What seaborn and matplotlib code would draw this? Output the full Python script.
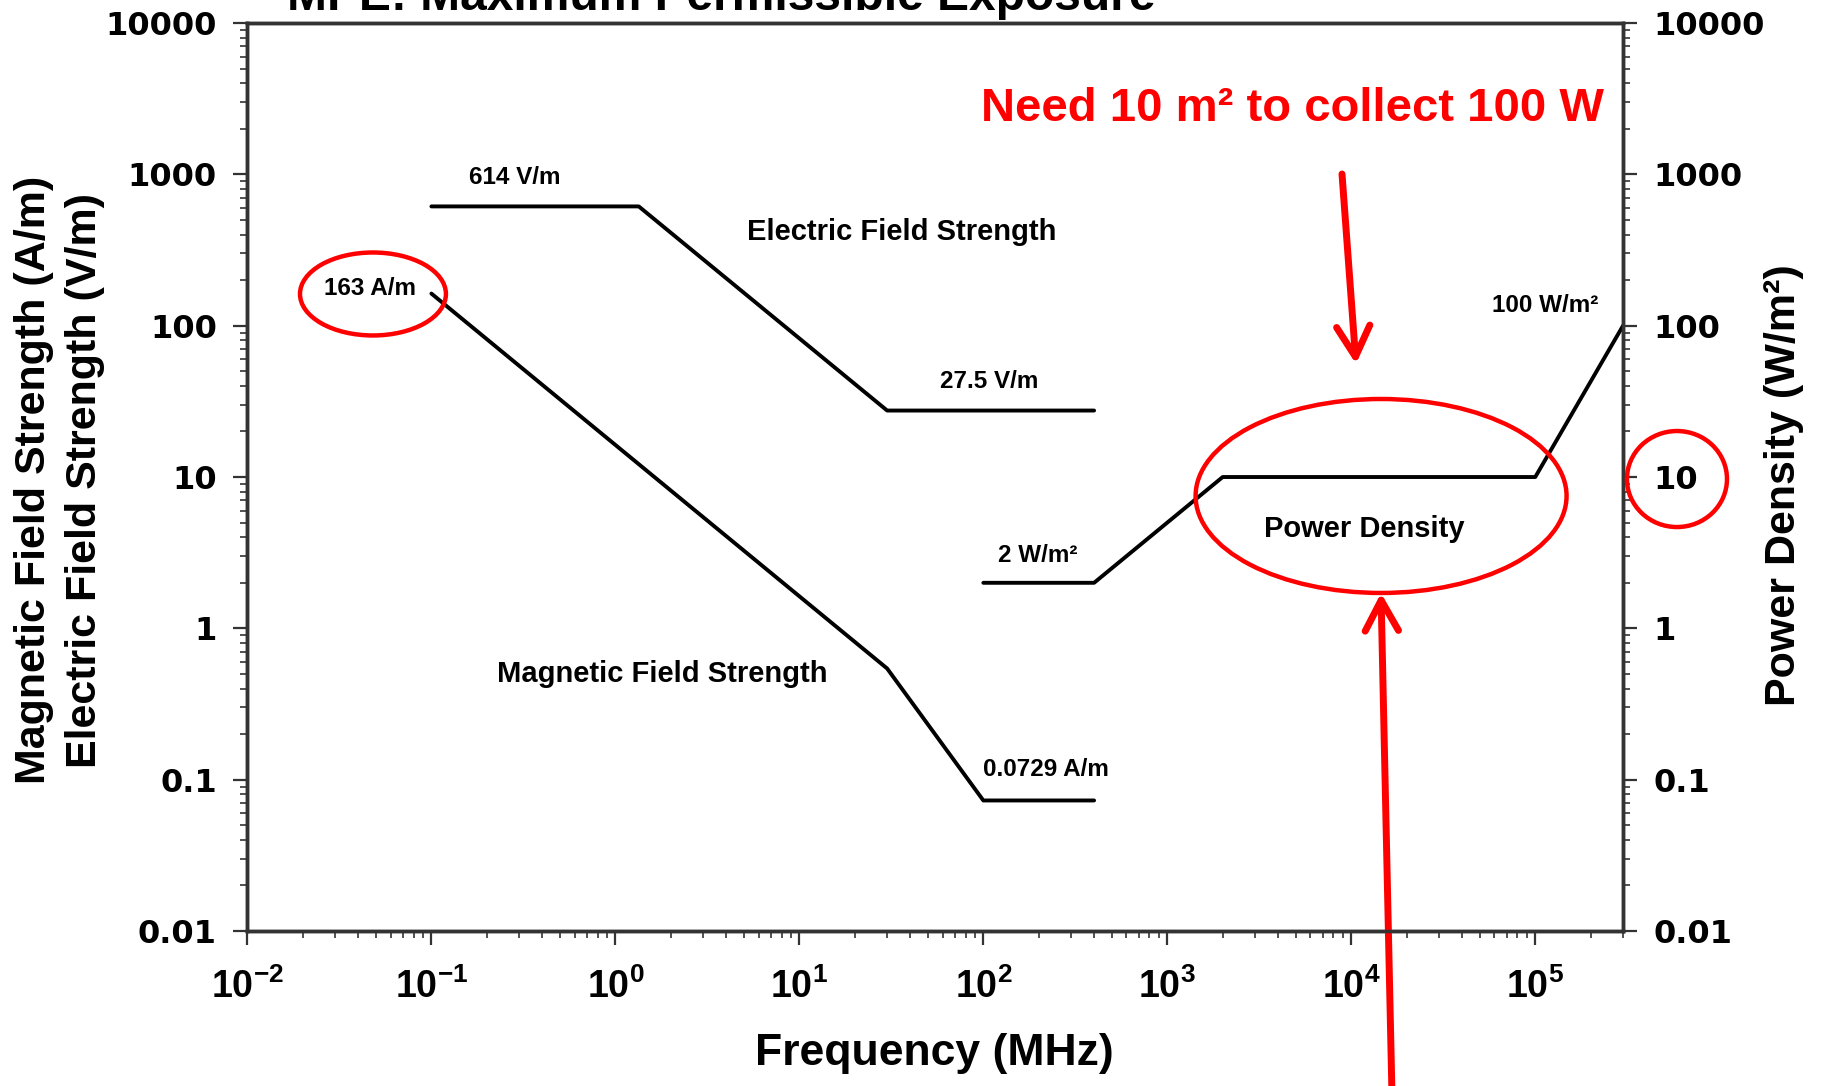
import numpy as np
import matplotlib
matplotlib.use('Agg')
import matplotlib.pyplot as plt
import seaborn as sns
from matplotlib.patches import Ellipse
from matplotlib.ticker import LogLocator, NullFormatter

# ---- data ----
e_freq = [0.1, 1.34, 30, 400]          # MHz
e_field = [614, 614, 27.5, 27.5]       # V/m
h_freq = [0.1, 30, 100, 400]           # MHz
h_field = [163, 0.543, 0.0729, 0.0729] # A/m
p_freq = [100, 400, 2000, 100000, 300000]   # MHz
p_density = [2, 2, 10, 10, 100]             # W/m^2

x_ticks = [1e-2, 1e-1, 1e0, 1e1, 1e2, 1e3, 1e4, 1e5]
x_tick_labels = [r'$\mathbf{10^{-2}}$', r'$\mathbf{10^{-1}}$', r'$\mathbf{10^{0}}$',
                 r'$\mathbf{10^{1}}$', r'$\mathbf{10^{2}}$', r'$\mathbf{10^{3}}$',
                 r'$\mathbf{10^{4}}$', r'$\mathbf{10^{5}}$']
y_ticks = [0.01, 0.1, 1, 10, 100, 1000, 10000]
y_tick_labels = ['0.01', '0.1', '1', '10', '100', '1000', '10000']

sns.set_style('white')
plt.rcParams['font.family'] = ['Liberation Sans', 'DejaVu Sans']
plt.rcParams['font.weight'] = 'bold'
plt.rcParams['text.color'] = 'black'
plt.rcParams['axes.labelcolor'] = 'black'
plt.rcParams['xtick.color'] = 'black'
plt.rcParams['ytick.color'] = 'black'
plt.rcParams['mathtext.fontset'] = 'custom'
plt.rcParams['mathtext.bf'] = 'Liberation Sans:bold'
plt.rcParams['mathtext.rm'] = 'Liberation Sans:bold'
plt.rcParams['mathtext.it'] = 'Liberation Sans:bold'

fig = plt.figure(figsize=(18.22, 10.86), dpi=100)
ax = fig.add_axes([0.1358, 0.1427, 0.755, 0.8361])
ax.set_xscale('log')
ax.set_yscale('log')

sns.lineplot(x=e_freq, y=e_field, ax=ax, color='black', lw=2.8, estimator=None, sort=False)
sns.lineplot(x=h_freq, y=h_field, ax=ax, color='black', lw=2.8, estimator=None, sort=False)

ax2 = ax.twinx()
ax2.set_yscale('log')
sns.lineplot(x=p_freq, y=p_density, ax=ax2, color='black', lw=2.8, estimator=None, sort=False)

for a in (ax, ax2):
    a.set_xscale('log')
    a.set_yscale('log')
    a.set_xlim(1e-2, 3e5)
    a.set_ylim(0.01, 10000)
    a.set_xlabel('')
    a.set_ylabel('')
    for s in a.spines.values():
        s.set_visible(True)
        s.set_color('#333333')
        s.set_linewidth(2.5)

ax.set_xticks(x_ticks)
ax.set_xticklabels(x_tick_labels, fontsize=27, color='black')
ax.xaxis.set_minor_locator(LogLocator(base=10, subs=np.arange(2, 10), numticks=100))
ax.xaxis.set_minor_formatter(NullFormatter())

ax.set_yticks(y_ticks)
ax.set_yticklabels(y_tick_labels, fontsize=23, fontfamily='DejaVu Sans', fontweight='bold',
                   color='black')
ax.yaxis.set_minor_locator(LogLocator(base=10, subs=np.arange(2, 10), numticks=100))
ax.yaxis.set_minor_formatter(NullFormatter())

ax2.set_yticks(y_ticks)
ax2.set_yticklabels(y_tick_labels, fontsize=23, fontfamily='DejaVu Sans', fontweight='bold',
                    color='black')
ax2.yaxis.set_minor_locator(LogLocator(base=10, subs=np.arange(2, 10), numticks=100))
ax2.yaxis.set_minor_formatter(NullFormatter())

ax.tick_params(axis='both', which='major', direction='out', length=10, width=1.6, color='#333333')
ax.tick_params(axis='both', which='minor', direction='out', length=5, width=1.2, color='#333333')
ax.tick_params(axis='x', which='both', bottom=True, top=False)
ax.tick_params(axis='x', which='major', pad=17)
ax.tick_params(axis='y', which='both', left=True, right=False)
ax.tick_params(axis='y', which='major', pad=12)
ax2.tick_params(axis='y', which='major', direction='out', length=10, width=1.6, color='#333333', pad=12)
ax2.tick_params(axis='y', which='minor', direction='out', length=5, width=1.2, color='#333333')
ax2.tick_params(axis='y', which='both', right=True, left=False)
ax2.tick_params(axis='x', which='both', bottom=False, top=False, labelbottom=False)

# ---- in-plot labels ----
small = 17.5
big = 21
ax.text(0.285, 950, '614 V/m', fontsize=small, ha='center', va='center')
ax.text(35.9, 414, 'Electric Field Strength', fontsize=big, ha='center', va='center')
ax.text(0.0461, 177, '163 A/m', fontsize=small, ha='center', va='center')
ax.text(108, 43, '27.5 V/m', fontsize=small, ha='center', va='center')
ax.text(197, 3.03, '2 W/m²', fontsize=small, ha='center', va='center')
ax.text(11800, 4.55, 'Power Density', fontsize=big, ha='center', va='center')
ax.text(112700, 136, '100 W/m²', fontsize=small, ha='center', va='center')
ax.text(1.79, 0.499, 'Magnetic Field Strength', fontsize=big, ha='center', va='center')
ax.text(218, 0.117, '0.0729 A/m', fontsize=small, ha='center', va='center')

# ---- axis titles ----
fig.text(0.0187, 0.558, 'Magnetic Field Strength (A/m)', rotation=90, fontsize=31,
         ha='center', va='center')
fig.text(0.0467, 0.558, 'Electric Field Strength (V/m)', rotation=90, fontsize=31,
         ha='center', va='center')
fig.text(0.979, 0.553, 'Power Density (W/m²)', rotation=90, fontsize=31,
         ha='center', va='center')
fig.text(0.513, 0.0295, 'Frequency (MHz)', fontsize=32, ha='center', va='center')
fig.text(0.396, 0.9908, 'MPE: Maximum Permissible Exposure', fontsize=34.5,
         ha='center', va='baseline')

# ---- red overlay ----
fig.text(0.7094, 0.8886, 'Need 10 m² to collect 100 W', color='#ff0000', fontsize=34,
         ha='center', va='baseline')
for (cx, cy, w, h) in [(0.2047, 0.7293, 0.0801, 0.0764),
                       (0.758, 0.5433, 0.2036, 0.1786),
                       (0.9204, 0.5589, 0.0549, 0.0884)]:
    fig.add_artist(Ellipse((cx, cy), w, h, transform=fig.transFigure, fill=False,
                           edgecolor='#ff0000', lw=3.2))

arrow_style = dict(arrowstyle='->,head_length=1.1,head_width=0.6', color='#ff0000', lw=5,
                   mutation_scale=20, shrinkA=0, shrinkB=0, capstyle='round', joinstyle='round')
ax.annotate('', xy=(1356, 722), xytext=(1342, 912), xycoords='figure pixels',
            textcoords='figure pixels', arrowprops=arrow_style, annotation_clip=False)
ax.annotate('', xy=(1381, 493), xytext=(1392, -10), xycoords='figure pixels',
            textcoords='figure pixels', arrowprops=arrow_style, annotation_clip=False)

fig.savefig('out.png', dpi=100)
